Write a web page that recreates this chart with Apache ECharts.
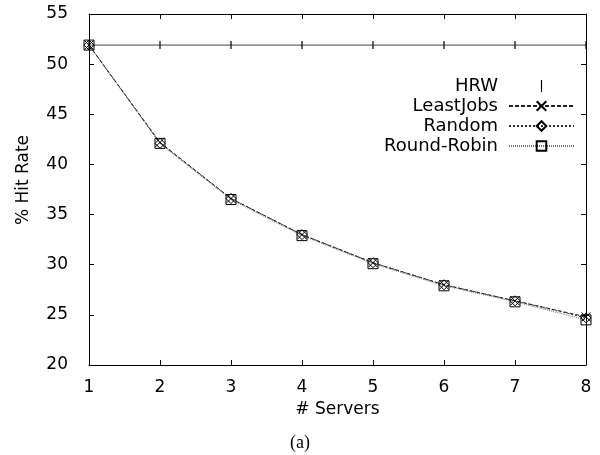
<!DOCTYPE html>
<html>
<head>
<meta charset="utf-8">
<script src="https://cdn.jsdelivr.net/npm/echarts@6/dist/echarts.min.js"></script>
<style>
  html, body { margin: 0; padding: 0; background: #fff; }
  #chart { width: 600px; height: 455px; }
</style>
</head>
<body>
<div id="chart"></div>
<script>
// number of servers (x axis)
const servers = [1, 2, 3, 4, 5, 6, 7, 8];

// % hit rate per policy
const hrw = [51.9, 51.9, 51.9, 51.9, 51.9, 51.9, 51.9, 51.9];
const leastJobs = [51.9, 42.2, 36.6, 33.0, 30.2, 28.0, 26.4, 24.8];
const random = [51.9, 42.1, 36.6, 33.0, 30.2, 28.0, 26.4, 24.7];
const roundRobin = [51.9, 42.1, 36.5, 32.9, 30.1, 27.9, 26.3, 24.5];

const yTicks = [20, 25, 30, 35, 40, 45, 50, 55];

const FONT = 'DejaVu Sans';
const CROSS = 'path://M0,0L10,10M10,0L0,10';
const BAR = 'path://M0,0h1v10h-1z';

const pairs = (ys) => servers.map((x, i) => [x, ys[i]]);

const chart = echarts.init(document.getElementById('chart'), null, { renderer: 'canvas' });

// ticks inside on all four sides, gnuplot style
const tickStyle = { show: true, inside: true, length: 5, lineStyle: { color: '#000', width: 1 } };

const option = {
  animation: false,
  backgroundColor: '#fff',
  title: {
    text: '(a)',
    left: 'center',
    top: 429,
    textStyle: { fontFamily: 'Liberation Serif', fontSize: 18, fontWeight: 'normal', color: '#000' }
  },
  grid: { left: 89, right: 14, top: 14, bottom: 90 },
  legend: {
    orient: 'vertical',
    right: 20,
    top: 72,
    align: 'right',
    itemWidth: 65,
    itemHeight: 12,
    itemGap: 2,
    selectedMode: false,
    textStyle: { fontFamily: FONT, fontSize: 18, color: '#000', padding: [0, 6, 0, 0] },
    data: [
      { name: 'HRW', icon: BAR },
      'LeastJobs',
      'Random',
      'Round-Robin'
    ]
  },
  xAxis: [
    {
      type: 'value',
      min: 1,
      max: 8,
      interval: 1,
      name: '# Servers',
      nameLocation: 'middle',
      nameGap: 33,
      nameTextStyle: { fontFamily: FONT, fontSize: 17, color: '#000' },
      axisLine: { lineStyle: { color: '#000', width: 1 } },
      axisTick: tickStyle,
      axisLabel: { fontFamily: FONT, fontSize: 17, color: '#000', margin: 14 },
      splitLine: { show: false }
    },
    {
      type: 'value',
      position: 'top',
      min: 1,
      max: 8,
      interval: 1,
      axisLine: { lineStyle: { color: '#000', width: 1 } },
      axisTick: tickStyle,
      axisLabel: { show: false },
      splitLine: { show: false }
    }
  ],
  yAxis: [
    {
      type: 'value',
      min: yTicks[0],
      max: yTicks[yTicks.length - 1],
      interval: 5,
      name: '% Hit Rate',
      nameLocation: 'middle',
      nameRotate: 90,
      nameGap: 57,
      nameTextStyle: { fontFamily: FONT, fontSize: 17, color: '#000', padding: [0, 0, 0, 19] },
      axisLine: { show: true, lineStyle: { color: '#000', width: 1 } },
      axisTick: tickStyle,
      axisLabel: { fontFamily: FONT, fontSize: 17, color: '#000', margin: 21 },
      splitLine: { show: false }
    },
    {
      type: 'value',
      position: 'right',
      min: yTicks[0],
      max: yTicks[yTicks.length - 1],
      interval: 5,
      axisLine: { show: true, lineStyle: { color: '#000', width: 1 } },
      axisTick: tickStyle,
      axisLabel: { show: false },
      splitLine: { show: false }
    }
  ],
  series: [
    {
      name: 'HRW',
      type: 'line',
      data: pairs(hrw),
      symbol: 'rect',
      symbolSize: [1.2, 8],
      lineStyle: { color: '#444', width: 1 },
      itemStyle: { color: '#000' },
      z: 2
    },
    {
      name: 'LeastJobs',
      type: 'line',
      data: pairs(leastJobs),
      symbol: CROSS,
      symbolSize: 9,
      lineStyle: { color: '#222', width: 1, type: [4, 2] },
      itemStyle: { color: 'rgba(0,0,0,0)', borderColor: '#000', borderWidth: 1 },
      z: 4
    },
    {
      name: 'Random',
      type: 'line',
      data: pairs(random),
      symbol: 'diamond',
      symbolSize: 10,
      lineStyle: { color: '#333', width: 1, type: [2, 2] },
      itemStyle: { color: 'rgba(0,0,0,0)', borderColor: '#000', borderWidth: 1 },
      z: 3
    },
    {
      name: 'Round-Robin',
      type: 'line',
      data: pairs(roundRobin),
      symbol: 'rect',
      symbolSize: 10,
      lineStyle: { color: '#777', width: 1, type: [1, 1] },
      itemStyle: { color: 'rgba(0,0,0,0)', borderColor: '#000', borderWidth: 1 },
      z: 3
    }
  ]
};

chart.setOption(option);
</script>
</body>
</html>
